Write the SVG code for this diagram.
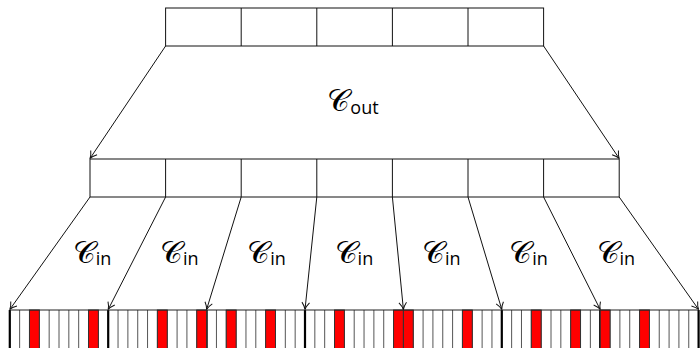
<svg xmlns="http://www.w3.org/2000/svg" width="700" height="348" viewBox="0 0 700 348">
  <style>
    .box { fill: #fff; stroke: #111; stroke-width: 1; }
    .edge { fill: none; stroke: #111; stroke-width: 1; marker-end: url(#tip); }
    .slot { fill: none; stroke: #555; stroke-width: 1; }
    .mark { fill: none; stroke: #000; stroke-width: 2.2; }
    .hit { fill: #ff0000; stroke: #333; stroke-width: 1; }
    .lbl { font-family: "DejaVu Sans", "DejaVu Serif", serif; fill: #000; }
    .cal { font-size: 31px; }
    .sub { font-family: "Open Sans", "Liberation Sans", sans-serif; font-size: 18px; }
  </style>
  <defs>
    <marker id="tip" markerUnits="userSpaceOnUse" markerWidth="12" markerHeight="12" viewBox="-8 -6 10 12" refX="0" refY="0" orient="auto">
      <path d="M -7 -3.8 Q -3 -0.6 0 0 Q -3 0.6 -7 3.8" fill="none" stroke="#111" stroke-width="1"/>
    </marker>
  </defs>

  <!-- top row: 5 cells -->
  <g id="top-row">
    <rect class="box" x="165.6" y="8" width="378" height="38"/>
    <path class="slot" style="stroke:#111" d="M241.2 8V46M316.8 8V46M392.4 8V46M468 8V46"/>
  </g>

  <!-- middle row: 7 cells -->
  <g id="mid-row">
    <rect class="box" x="90" y="159" width="529.2" height="38"/>
    <path class="slot" style="stroke:#111" d="M165.6 159V197M241.2 159V197M316.8 159V197M392.4 159V197M468 159V197M543.6 159V197"/>
  </g>

  <!-- bottom bar: 70 slots, x = 9.8 + 9.84k -->
  <g id="bottom-bar">
    <path class="slot" d="M19.64 310V348M29.48 310V348M39.32 310V348M49.16 310V348M59 310V348M68.84 310V348M78.68 310V348M88.52 310V348M98.36 310V348
      M118.04 310V348M127.88 310V348M137.72 310V348M147.56 310V348M157.4 310V348M167.24 310V348M177.08 310V348M186.92 310V348M196.76 310V348
      M216.44 310V348M226.28 310V348M236.12 310V348M245.96 310V348M255.8 310V348M265.64 310V348M275.48 310V348M285.32 310V348M295.16 310V348
      M314.84 310V348M324.68 310V348M334.52 310V348M344.36 310V348M354.2 310V348M364.04 310V348M373.88 310V348M383.72 310V348M393.56 310V348
      M413.24 310V348M423.08 310V348M432.92 310V348M442.76 310V348M452.6 310V348M462.44 310V348M472.28 310V348M482.12 310V348M491.96 310V348
      M511.64 310V348M521.48 310V348M531.32 310V348M541.16 310V348M551 310V348M560.84 310V348M570.68 310V348M580.52 310V348M590.36 310V348
      M610.04 310V348M619.88 310V348M629.72 310V348M639.56 310V348M649.4 310V348M659.24 310V348M669.08 310V348M678.92 310V348M688.76 310V348"/>
    <path class="mark" d="M9.8 310V348M108.2 310V348M206.6 310V348M305 310V348M403.4 310V348M501.8 310V348M600.2 310V348M698.6 310V348"/>
    <g id="hits">
      <rect class="hit" x="29.48" y="310" width="9.84" height="40"/>
      <rect class="hit" x="88.52" y="310" width="9.84" height="40"/>
      <rect class="hit" x="157.4" y="310" width="9.84" height="40"/>
      <rect class="hit" x="196.76" y="310" width="9.84" height="40"/>
      <rect class="hit" x="226.28" y="310" width="9.84" height="40"/>
      <rect class="hit" x="265.64" y="310" width="9.84" height="40"/>
      <rect class="hit" x="334.52" y="310" width="9.84" height="40"/>
      <rect class="hit" x="393.56" y="310" width="9.84" height="40"/>
      <rect class="hit" x="403.4" y="310" width="9.84" height="40"/>
      <rect class="hit" x="462.44" y="310" width="9.84" height="40"/>
      <rect class="hit" x="531.32" y="310" width="9.84" height="40"/>
      <rect class="hit" x="570.68" y="310" width="9.84" height="40"/>
      <rect class="hit" x="600.2" y="310" width="9.84" height="40"/>
      <rect class="hit" x="639.56" y="310" width="9.84" height="40"/>
    </g>
    <path d="M9.8 310H698.6" stroke="#222" stroke-width="1"/>
  </g>

  <!-- connectors -->
  <g id="connectors">
    <line class="edge" x1="165.6" y1="46" x2="90" y2="158.5"/>
    <line class="edge" x1="543.6" y1="46" x2="619.2" y2="158.5"/>
    <line class="edge" x1="90" y1="197" x2="9.8" y2="309.5"/>
    <line class="edge" x1="165.6" y1="197" x2="108.2" y2="309.5"/>
    <line class="edge" x1="241.2" y1="197" x2="206.6" y2="309.5"/>
    <line class="edge" x1="316.8" y1="197" x2="305" y2="309.5"/>
    <line class="edge" x1="392.4" y1="197" x2="403.4" y2="309.5"/>
    <line class="edge" x1="468" y1="197" x2="501.8" y2="309.5"/>
    <line class="edge" x1="543.6" y1="197" x2="600.2" y2="309.5"/>
    <line class="edge" x1="619.2" y1="197" x2="698.6" y2="309.5"/>
  </g>

  <!-- labels -->
  <g id="labels">
    <text class="lbl" x="353" y="111" text-anchor="middle"><tspan class="cal">𝒞</tspan><tspan class="sub" dy="3">out</tspan></text>
    <text class="lbl" x="92" y="263" text-anchor="middle"><tspan class="cal">𝒞</tspan><tspan class="sub" dy="2">in</tspan></text>
    <text class="lbl" x="179.3" y="263" text-anchor="middle"><tspan class="cal">𝒞</tspan><tspan class="sub" dy="2">in</tspan></text>
    <text class="lbl" x="266.6" y="263" text-anchor="middle"><tspan class="cal">𝒞</tspan><tspan class="sub" dy="2">in</tspan></text>
    <text class="lbl" x="353.9" y="263" text-anchor="middle"><tspan class="cal">𝒞</tspan><tspan class="sub" dy="2">in</tspan></text>
    <text class="lbl" x="441.2" y="263" text-anchor="middle"><tspan class="cal">𝒞</tspan><tspan class="sub" dy="2">in</tspan></text>
    <text class="lbl" x="528.5" y="263" text-anchor="middle"><tspan class="cal">𝒞</tspan><tspan class="sub" dy="2">in</tspan></text>
    <text class="lbl" x="615.8" y="263" text-anchor="middle"><tspan class="cal">𝒞</tspan><tspan class="sub" dy="2">in</tspan></text>
  </g>
</svg>
